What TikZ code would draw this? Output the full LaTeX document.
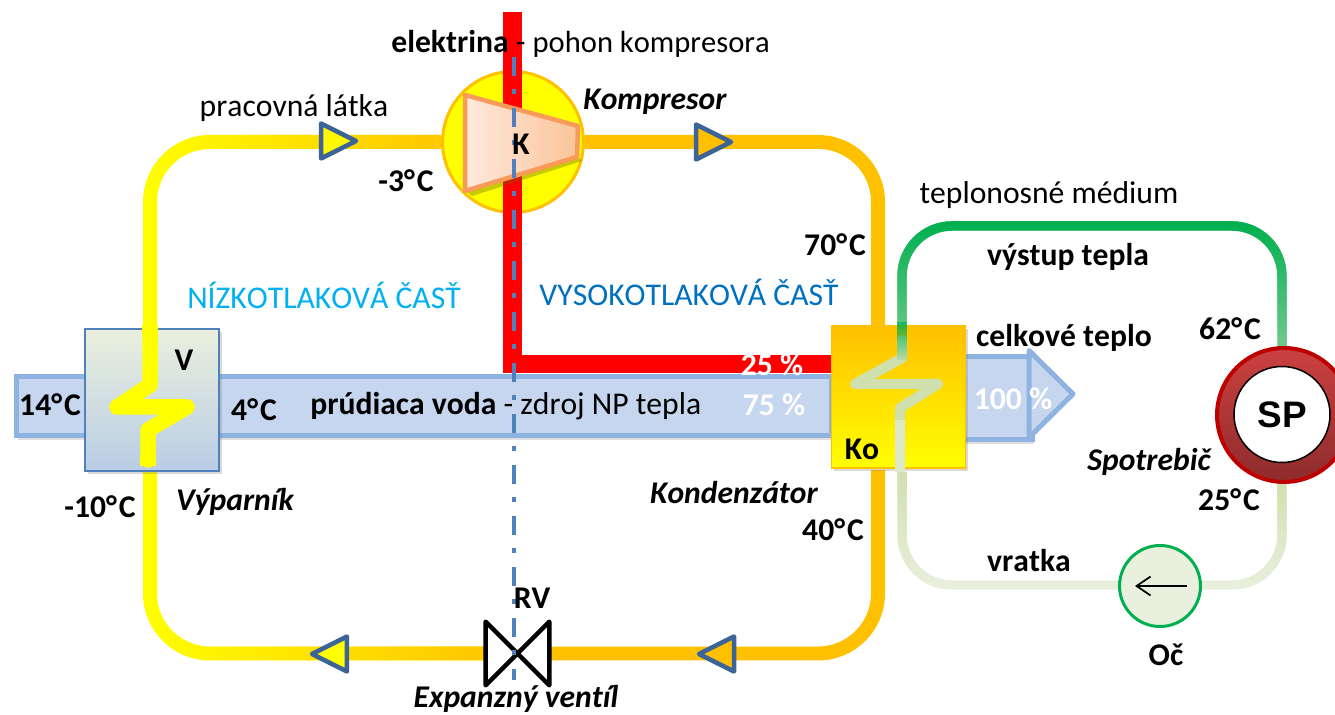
\documentclass[tikz,border=0pt]{standalone}
\usepackage{fontspec}
\setmainfont[Kerning=Off,Ligatures=NoCommon]{Carlito}
\newfontfamily\spfont{Liberation Sans}
\usetikzlibrary{arrows.meta,shapes.geometric,shadows,fadings}
\definecolor{pipeY}{HTML}{FFFF00}
\definecolor{pipeO}{HTML}{FFC000}
\definecolor{markB}{HTML}{3C6497}
\definecolor{lineB}{HTML}{4F81BD}
\definecolor{bandB}{HTML}{C5D6EE}
\definecolor{bandE}{HTML}{8FB3E0}
\definecolor{hotG}{HTML}{00B050}
\definecolor{midG}{HTML}{78CC8E}
\definecolor{coldG}{HTML}{CFE0AE}
\definecolor{paleG}{HTML}{EAF0DE}
\definecolor{lowB}{HTML}{00B0F0}
\definecolor{highB}{HTML}{0070C0}
\definecolor{ringT}{HTML}{CC4040}
\definecolor{ringB}{HTML}{8E2C2C}
\definecolor{turbE}{HTML}{F79A5A}
\definecolor{turbL}{HTML}{FFE9DC}
\definecolor{turbR}{HTML}{FAC498}
\newcommand{\degC}{°\kern1.1pt C}
\tikzfading[name=fadeeast, left color=transparent!100, right color=transparent!0]
\tikzfading[name=fadenorth, bottom color=transparent!100, top color=transparent!0]
\tikzfading[name=fadesouth, top color=transparent!100, bottom color=transparent!0]
\begin{document}
\begin{tikzpicture}
[x=0.02cm, y=-0.02cm,
% STYLES
pipe/.style={line width=0.28cm, rounded corners=1.2cm},
heatpipe/.style={line width=0.19cm, rounded corners=1cm},
under/.style={preaction={draw=black, opacity=0.25, transform canvas={yshift=-2pt, xshift=0.8pt}}},
flowmark/.style={isosceles triangle, isosceles triangle stretches, draw=markB, line width=0.09cm, line join=round, minimum width=0.7cm, minimum height=0.7cm, inner sep=0pt, outer sep=0pt, anchor=apex},
exchanger/.style={rectangle, minimum width=2.68cm, minimum height=2.84cm, inner sep=0pt, drop shadow={shadow xshift=1.5pt, shadow yshift=-1.5pt, opacity=0.3}},
lbl/.style={font=\fontsize{18}{21}\selectfont, inner sep=0pt},
boldlbl/.style={lbl, font=\fontsize{18}{21}\selectfont\bfseries},
itlbl/.style={lbl, font=\fontsize{18}{21}\selectfont\bfseries\itshape}]

\useasboundingbox (0,0) rectangle (1335,715);

% Draw exchangers and fixed points of the loops
\coordinate (evapin) at (150,325);
\coordinate (evapout) at (150,469);
\coordinate (condin) at (878,325);
\coordinate (condout) at (878,470);
\coordinate (coilin) at (902,322);
\coordinate (coilout) at (902,472);
\coordinate (redtop) at (512.5,12);
\coordinate (axistop) at (514,57);
\coordinate (axisend) at (514,680);
\node [minimum size=1.26cm, inner sep=0pt] (valve) at (517.5,653.5) {};
\node [circle, minimum size=2.82cm, inner sep=0pt, draw=pipeO, line width=0.06cm, fill=pipeY] (comp) at (513,142) {};

% Draw water band
\node [rectangle, draw=bandE, line width=0.1cm, fill=bandB, minimum width=16.3cm, minimum height=1.2cm, inner sep=0pt, drop shadow={shadow xshift=1pt, shadow yshift=-2pt, opacity=0.25}] (water) at (424,406) {};

% Draw electric line
\draw [under, draw=red, line width=0.37cm, line join=miter] (redtop) -- (512.5,364) -- (835,364);

% Draw working loop
\draw [pipe, under, pipeY] (comp.west) -| (evapin);
\draw [pipe, pipeO!90!pipeY, path fading=fadeeast] (comp.west) -| (evapin);
\draw [pipe, under, pipeY] (evapout) |- (valve.west);
\draw [pipe, pipeO!90!pipeY, path fading=fadeeast] (evapout) |- (valve.west);
\draw [pipe, under, pipeO] (comp.east) -| (condin);
\draw [pipe, under, pipeO] (condout) |- (valve.east);

% Draw heating loop
\draw [heatpipe, under, midG] (coilin) |- (1282,226) -- (1282,350);
\draw [heatpipe, hotG, path fading=fadenorth] (coilin) |- (1282,226) -- (1282,350);
\draw [heatpipe, under, paleG] (1282,480) |- (1120,585);
\draw [heatpipe, coldG, path fading=fadesouth, fading angle=180] (1282,480) |- (1120,585);
\draw [heatpipe, under, paleG] (1120,585) -| (coilout);
\draw [heatpipe, coldG, path fading=fadesouth, fading angle=180] (1120,585) -| (coilout);

% Draw flow marks
\node [flowmark, fill=pipeY!90!pipeO] (markone) at (356,141) {};
\node [flowmark, fill=pipeO] (marktwo) at (731,142) {};
\node [flowmark, fill=pipeY, shape border rotate=180] (markthree) at (312,654) {};
\node [flowmark, fill=pipeO, shape border rotate=180] (markfour) at (699,654) {};

% Draw evaporator
\node [exchanger, draw=lineB, line width=0.04cm, top color=paleG, bottom color=lineB!40] (evap) at (152,400) {};
\draw [line width=0.31cm, pipeY, line join=round, line cap=round] (150,330) -- (150,385) -- (117,407) -- (187,407) -- (148,430) -- (148,460);
\draw [line width=0.31cm, pipeY] (150,325) -- (150,335) (148,455) -- (148,466);

% Draw condenser and heat arrow
\node [rectangle, draw=bandE, line width=0.1cm, fill=bandB, minimum width=1.6cm, minimum height=1.68cm, inner sep=0pt, drop shadow={shadow xshift=1pt, shadow yshift=-2pt, opacity=0.25}] (heat) at (992,398) {};
\node [isosceles triangle, isosceles triangle stretches, draw=bandE, line width=0.1cm, line join=round, fill=bandB, minimum width=1.74cm, minimum height=0.88cm, inner sep=0pt, outer sep=0pt, anchor=apex] (heattip) at (1073,394) {};
\node [exchanger, draw=pipeO, line width=0.03cm, top color=pipeO, bottom color=pipeY] (cond) at (898.5,397) {};
\draw [line width=0.2cm, coldG, line join=round, line cap=round] (902,340) -- (902,358) -- (855,384) -- (938,384) -- (900,408) -- (900,465);
\draw [line width=0.2cm, coldG!70!white] (900,420) -- (900,472);
\draw [line width=0.2cm, coldG, line join=round] (902,340) -- (902,358) -- (898,360);
\draw [line width=0.2cm, hotG, path fading=fadenorth] (coilin) -- (902,360);

% Draw compressor
\fill [black!60!pipeY, opacity=0.35] (466,191) -- (578,157) -- (582,161) -- (472,196) -- cycle;
\draw [left color=turbL, right color=turbR, draw=turbE, line width=0.09cm, line join=round] (465,95) -- (578,126) -- (577,157) -- (465,191) -- cycle;

% Draw consumer and pump
\node [circle, minimum size=2.68cm, inner sep=0pt, draw=red!75!black, line width=0.08cm, top color=ringT, bottom color=ringB] (sp) at (1284,415) {};
\node [circle, minimum size=1.92cm, inner sep=0pt, draw=black, line width=0.03cm, fill=white, font=\fontsize{21}{24}\selectfont\spfont\bfseries] (spin) at (1282,414.5) {SP};
\node [circle, minimum size=1.62cm, inner sep=0pt, draw=hotG, line width=0.06cm, fill=paleG] (pump) at (1160,586) {};
\draw [-{Straight Barb[length=0.28cm,width=0.38cm]}, line width=1pt] (1187,586) -- (1135,586);

% Draw valve
\draw [draw=black, fill=white, line width=0.09cm, line join=round] (valve.north west) -- (valve.south east) -- (valve.north east) -- (valve.south west) -- cycle;

% Draw axis
\draw [lineB, line width=0.08cm, dash pattern=on 0.38cm off 0.26cm on 0.1cm off 0.28cm] (axistop) -- (axisend);

% Draw labels
\node [lbl, anchor=west] (elek) at (391,44) {\textbf{elektrina} - {\fontsize{17.4}{21}\selectfont pohon kompresora}};
\node [lbl] (prac) at (294,108) {pracovná látka};
\node [lbl] (tepl) at (1049,195) {teplonosné médium};
\node [lbl, text=lowB] (low) at (324,295) {NÍZKOTLAKOVÁ ČASŤ};
\node [lbl, text=highB] (high) at (689,292) {VYSOKOTLAKOVÁ ČASŤ};
\node [lbl, anchor=west] (voda) at (310,406) {\textbf{prúdiaca voda} - zdroj NP tepla};
\node [itlbl] (kompr) at (655,102) {Kompresor};
\node [itlbl] (vypar) at (235,502) {Výparník};
\node [itlbl] (konde) at (734,493) {Kondenzátor};
\node [itlbl] (spotr) at (1149,462) {Spotrebič};
\node [itlbl] (expan) at (516,699) {Expanzný ventíl};
\node [boldlbl] (tk) at (521,144) {K};
\node [boldlbl] (tv) at (184,360) {V};
\node [boldlbl] (tko) at (862,449) {Ko};
\node [boldlbl] (trv) at (532,598) {RV};
\node [boldlbl] (toc) at (1166,655) {Oč};
\node [boldlbl] (vyst) at (1068,257) {výstup tepla};
\node [boldlbl] (celk) at (1064,338) {celkové teplo};
\node [boldlbl] (vrat) at (1029,561) {vratka};
\node [boldlbl] (tma) at (406,181) {-3\degC};
\node [boldlbl] (tmb) at (835,245) {70\degC};
\node [boldlbl] (tmc) at (1230,329) {62\degC};
\node [boldlbl] (tmd) at (50,405) {14\degC};
\node [boldlbl] (tme) at (254,410) {4\degC};
\node [boldlbl] (tmf) at (100,507) {-10\degC};
\node [boldlbl] (tmg) at (833,530) {40\degC};
\node [boldlbl] (tmh) at (1229,500) {25\degC};
\node [boldlbl, text=white] (pca) at (772,365) {25 \%};
\node [boldlbl, text=white] (pcb) at (774,405) {75 \%};
\node [boldlbl, text=white] (pcc) at (1013,399) {100 \%};

\end{tikzpicture}
\end{document}
